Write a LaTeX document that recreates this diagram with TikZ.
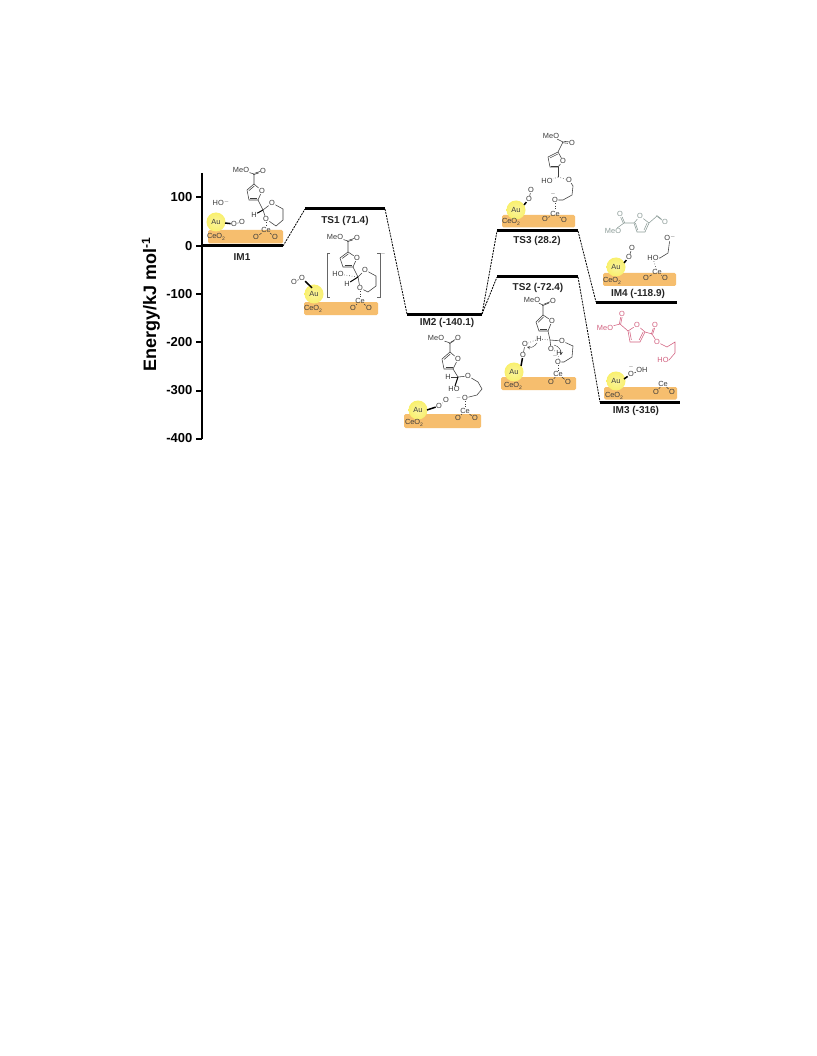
\documentclass[tikz,border=0pt]{standalone}
\usepackage{fontspec}
\setmainfont{Liberation Sans}
\usetikzlibrary{calc}
\definecolor{plateor}{HTML}{F6BE6E}
\definecolor{grayblue}{HTML}{8C9C98}
\definecolor{rosepink}{HTML}{D2607F}
\definecolor{bondgray}{HTML}{3C3C3C}
\definecolor{glowa}{HTML}{FAF49C}
\definecolor{glowb}{HTML}{F9F070}
\definecolor{glowc}{HTML}{F8EB10}
\definecolor{glowd}{HTML}{F8EB10}
\pgfdeclareradialshading{auglow}{\pgfpoint{0bp}{0bp}}{color(0bp)=(glowa); color(24bp)=(glowb); color(40bp)=(glowc); color(50bp)=(glowd)}
\newcommand{\subtwo}{\raisebox{-1.2pt}{\fontsize{5}{5}\selectfont 2}}
\newcommand{\supminus}{\raisebox{2.5pt}{\fontsize{5}{5}\selectfont $-$}}
\tikzset{
  level/.style={line width=3pt,black},
  conn/.style={dashed,dash pattern=on 2pt off 1pt,line width=0.8pt,black},
  axisl/.style={line width=2pt,black},
  ticklab/.style={font=\bfseries\fontsize{13}{15}\selectfont,anchor=east,inner sep=0},
  lvlab/.style={font=\bfseries\fontsize{10}{12}\selectfont,inner sep=0,text=black!85},
  atom/.style={font=\fontsize{7.4}{8}\selectfont,inner sep=0.3pt,text=bondgray},
  bond/.style={line width=0.55pt,draw=bondgray},
  wedge/.style={line width=1.5pt,black},
  hbond/.style={line width=0.6pt,dotted,draw=bondgray},
  plate/.style={fill=plateor,rounded corners=1.5pt,draw=none},
}
% prefix, C2, O, C5, C4, C3, colour
\newcommand{\furan}[7]{
  \node[atom,text=#7] (#1O) at (#3) {O};
  \coordinate (#12) at (#2); \coordinate (#15) at (#4);
  \coordinate (#14) at (#5); \coordinate (#13) at (#6);
  \coordinate (#1c) at ($(#3)!0.45!($(#5)!0.5!(#6)$)$);
  \draw[line width=0.55pt,draw=#7,line join=round] (#1O) -- (#15) -- (#14) -- (#13) -- (#12) -- (#1O);
  \draw[line width=0.55pt,draw=#7] ($(#15)!0.22!(#1c)$) -- ($(#14)!0.22!(#1c)$);
  \draw[line width=0.55pt,draw=#7] ($(#13)!0.22!(#1c)$) -- ($(#12)!0.22!(#1c)$);
}
% prefix, MeO pos, ester C, =O pos, colour : bonded to prefix-5
\newcommand{\ester}[5]{
  \node[atom,text=#5] (#1M) at (#2) {MeO};
  \coordinate (#1E) at (#3);
  \node[atom,text=#5] (#1Q) at (#4) {O};
  \draw[line width=0.55pt,draw=#5] (#15) -- (#1E) -- (#1M);
  \draw[line width=0.55pt,draw=#5,transform canvas={shift={(0.7pt,0.7pt)}}] (#1E) -- (#1Q);
  \draw[line width=0.55pt,draw=#5,transform canvas={shift={(-0.7pt,-0.7pt)}}] (#1E) -- (#1Q);
}
% prefix, Ce, O, O
\newcommand{\ceunit}[4]{
  \node[atom] (#1ce) at (#2) {Ce};
  \node[atom] (#1oa) at (#3) {O};
  \node[atom] (#1ob) at (#4) {O};
  \draw[bond] (#1ce) -- (#1oa);
  \draw[bond] (#1ce) -- (#1ob);
}
% prefix, centre
\newcommand{\gold}[2]{
  \shade[shading=auglow] (#2) circle (9.5);
  \node[atom] (#1au) at (#2) {Au};
}
\begin{document}
\begin{tikzpicture}[x=1pt,y=-1pt]
\useasboundingbox (0,0) rectangle (816,1056);
\fill[white] (0,0) rectangle (816,1056);

% axis
\coordinate (axT) at (201.5,173);
\coordinate (axB) at (201.5,439);
\draw[axisl] (axT) -- (axB);
\foreach \nm/\yy/\lab in {a/197.5/100,b/246/0,c/294/-100,d/342/-200,e/390.5/-300,f/438.5/-400}{
  \coordinate (t\nm) at (196,\yy);
  \coordinate (u\nm) at (201.5,\yy);
  \draw[axisl] (t\nm) -- (u\nm);
  \node[ticklab] (l\nm) at (192.5,\yy) {\lab};
}
\node[rotate=90,inner sep=0,font=\bfseries\fontsize{18}{20}\selectfont] (ylab) at (151,305) {Energy/kJ mol\raisebox{6pt}{\fontsize{12}{12}\selectfont -1}};

% levels
\foreach \nm/\xa/\xb/\yy in {imA/201/283/246,tsA/305/385/209,imB/407/482/314,tsC/497/578/231,tsB/497/578/277,imD/596/677/302,imC/600/680/402}{
  \coordinate (\nm l) at (\xa,\yy);
  \coordinate (\nm r) at (\xb,\yy);
}
\draw[conn] (imAr) -- (tsAl);
\draw[conn] (tsAr) -- (imBl);
\draw[conn] (imBr) -- (tsCl);
\draw[conn] (imBr) -- (tsBl);
\draw[conn] (tsCr) -- (imDl);
\draw[conn] (tsBr) -- (imCl);
\foreach \nm in {imA,tsA,imB,tsC,tsB,imD,imC}{ \draw[level] (\nm l) -- (\nm r); }

% level labels
\node[lvlab] (nIMa) at (242,257) {IM1};
\node[lvlab] (nTSa) at (345,221) {TS1 (71.4)};
\node[lvlab] (nIMb) at (447,323) {IM2 (-140.1)};
\node[lvlab] (nTSc) at (537,241) {TS3 (28.2)};
\node[lvlab] (nTSb) at (538,288) {TS2 (-72.4)};
\node[lvlab] (nIMd) at (638,294) {IM4 (-118.9)};
\node[lvlab] (nIMc) at (636,411) {IM3 (-316)};

% ---------- IM1
\fill[plate] (208,230) rectangle (283,243.5);
\gold{a}{216,222}
\node[atom] (aCe) at (216,237) {CeO\subtwo};
\node[atom] (aoa) at (234,224) {O};
\node[atom] (aob) at (242,222) {O};
\draw[wedge] (aau.east) ++(4,1) -- (aoa);
\draw[bond] (aoa) -- (aob);
\node[atom] (aho) at (221,203) {HO\supminus};
\furan{af}{258,200}{262,191}{254,184}{247,190}{249,200}{bondgray}
\ester{af}{241,170}{254,174}{263,171}{bondgray}
\coordinate (aC) at (263,210);
\node[atom] (aH) at (254,215) {H};
\node[atom] (aOa) at (272,203) {O};
\node[atom] (aOb) at (266,219) {O};
\coordinate (ar1) at (283,209);
\coordinate (ar2) at (283,220);
\coordinate (ar3) at (276,226);
\draw[bond] (af2) -- (aC) -- (aOa) -- (ar1) -- (ar2) -- (ar3) -- (aOb) -- (aC);
\draw[wedge,line width=1pt] (aC) -- (aH);
\ceunit{a}{266,230}{256,237}{275,237}
\draw[hbond] (aOb) -- (ace);

% ---------- TS1
\fill[plate] (304,302) rectangle (378,315);
\gold{b}{314,294}
\node[atom] (bCe) at (313,309) {CeO\subtwo};
\node[atom] (boa) at (302,278) {O};
\node[atom] (bob) at (294,282) {O};
\draw[wedge] (bau.north) ++(-2,-3) -- (boa);
\draw[bond] (boa) -- (bob);
\furan{bf}{353,267}{357,258}{348,252}{340,258}{343,267}{bondgray}
\ester{bf}{335,237}{348,241}{357,238}{bondgray}
\coordinate (bC) at (358,277);
\node[atom] (bHO) at (338,274) {HO};
\node[atom] (bH) at (347,284) {H};
\node[atom] (bOa) at (365,270) {O};
\node[atom] (bOb) at (360,288) {O};
\coordinate (br1) at (376,276);
\coordinate (br2) at (376,286);
\coordinate (br3) at (368,292);
\draw[bond] (bf2) -- (bC) -- (bOa) -- (br1) -- (br2) -- (br3) -- (bOb) -- (bC);
\draw[hbond] (bHO) -- (bC);
\draw[wedge,line width=1pt] (bC) -- (bH);
\ceunit{b}{360,301}{353,308}{369,308}
\draw[hbond] (bOb) -- (bce);
\coordinate (bkl) at (327,253);
\coordinate (bkr) at (380,253);
\draw[line width=0.5pt,draw=black!60] ($(bkl)+(3,0)$) -- (bkl) -- ++(0,44) -- ++(3,0);
\draw[line width=0.5pt,draw=black!60] ($(bkr)+(-3,0)$) -- (bkr) -- ++(0,44) -- ++(-3,0);
\node[atom] (bminus) at (383,255) {\supminus};

% ---------- IM2
\fill[plate] (404,414) rectangle (481,428);
\gold{c}{418,410}
\node[atom] (cCe) at (414,423) {CeO\subtwo};
\node[atom] (coa) at (439,406) {O};
\node[atom] (cob) at (446,400) {O};
\draw[wedge] (cau.east) ++(4,0) -- (coa);
\draw[bond] (coa) -- (cob);
\furan{cf}{453,369}{458,359}{450,352}{442,359}{444,369}{bondgray}
\ester{cf}{436,338}{450,343}{458,338}{bondgray}
\coordinate (cC) at (458,377);
\node[atom] (cH) at (448,377) {H};
\node[atom] (cHO) at (454,389) {HO};
\node[atom] (cOa) at (468,376) {O};
\node[atom] (cOb) at (465,398) {O};
\coordinate (cr1) at (478,382);
\coordinate (cr2) at (482,389);
\coordinate (cr3) at (477,395);
\draw[bond] (cf2) -- (cC) -- (cOa) -- (cr1) -- (cr2) -- (cr3) -- (cOb);
\draw[bond] (cH) -- (cC);
\draw[wedge,line width=1pt] (cC) -- (cHO);
\node[atom] (cdot) at (458.5,399) {\supminus};
\ceunit{c}{465,411}{458,418}{475,418}
\draw[hbond] (cOb) -- (cce);

% ---------- TS3
\fill[plate] (502,215) rectangle (575,227.5);
\gold{d}{516,210}
\node[atom] (dCe) at (511,222) {CeO\subtwo};
\node[atom] (doa) at (529,199) {O};
\node[atom] (dob) at (531,190) {O};
\draw[wedge] (dau.north east) ++(3,-2) -- (doa);
\draw[bond] (doa) -- (dob);
\furan{df}{558,167}{563,161}{558,152}{548,157}{550,167}{bondgray}
\ester{df}{551,136}{563,142}{572,143}{bondgray}
\coordinate (dC) at (558,177);
\node[atom] (dHO) at (547,181) {HO};
\node[atom] (dOa) at (569,180) {O};
\node[atom] (dOb) at (555,200) {O};
\coordinate (dr1) at (573,186);
\coordinate (dr2) at (572,195);
\coordinate (dr3) at (563,200);
\draw[bond] (df2) -- (dC);
\draw[hbond] (dC) -- (dOa);
\draw[hbond] (dC) -- (dHO);
\draw[bond] (dOa) -- (dr1) -- (dr2) -- (dr3) -- (dOb);
\node[atom] (dmin) at (553,195) {\supminus};
\ceunit{d}{555,214}{545,219}{564,220}
\draw[hbond] (dOb) -- (dce);

% ---------- TS2
\fill[plate] (501,377) rectangle (576,390);
\gold{e}{514,372}
\node[atom] (eCe) at (513,386) {CeO\subtwo};
\node[atom] (eoa) at (523,355) {O};
\node[atom] (eob) at (525,344) {O};
\draw[wedge] (eau.north east) ++(2,-3) -- (eoa);
\draw[bond] (eoa) -- (eob);
\furan{ef}{548,331}{552,321}{543,315}{536,322}{539,331}{bondgray}
\ester{ef}{532,300}{543,305}{553,301}{bondgray}
\coordinate (eC) at (550,340);
\node[atom] (eH) at (539,339) {H};
\node[atom] (eOa) at (562,341) {O};
\node[atom] (eOh) at (551,349) {O};
\node[atom] (eHb) at (559,353) {H};
\node[atom] (eOb) at (558,362) {O};
\coordinate (er1) at (573,346);
\coordinate (er2) at (572,357);
\coordinate (er3) at (564,362);
\draw[bond] (ef2) -- (eC) -- (eOa) -- (er1) -- (er2) -- (er3) -- (eOb);
\draw[hbond] (eH) -- (eC);
\draw[hbond] (eH) -- (eob);
\draw[bond] (eC) -- (eOh);
\draw[hbond] (eHb) -- (eOb);
\draw[hbond] (eOh) -- (eHb);
\draw[line width=0.4pt,draw=bondgray,->,>=stealth] (eH) ++(-2,4) to[bend left=35] ($(eob)+(2,3)$);
\draw[line width=0.4pt,draw=bondgray,->,>=stealth] (eOh) ++(3,-4) to[bend left=40] ($(eHb)+(2,2)$);
\node[atom] (emin) at (555,357) {\supminus};
\ceunit{e}{558,374}{551,382}{568,382}
\draw[hbond] (eOb) -- (ece);

% ---------- IM4
\fill[plate] (603,273) rectangle (676,286);
\gold{f}{616,267}
\node[atom] (fCe) at (612,281) {CeO\subtwo};
\node[atom] (foa) at (629,257) {O};
\node[atom] (fob) at (632,248) {O};
\draw[wedge] (fau.north east) ++(3,-1) -- (foa);
\draw[bond] (foa) -- (fob);
\node[atom] (fHO) at (653,258) {HO};
\node[atom] (fOm) at (670,238) {O\supminus};
\coordinate (fr1) at (668,253);
\coordinate (fr2) at (660,258);
\draw[bond] (fOm) -- (fr1) -- (fr2) -- (fHO);
\ceunit{f}{657,272}{646,278}{665,278}
\draw[hbond] (fHO) -- (fce);
% grey product
\furan{gf}{634,223}{640,216}{649,223}{645,232}{637,232}{grayblue}
\node[atom,text=grayblue] (gM) at (613,231) {MeO};
\coordinate (gE) at (624,223);
\node[atom,text=grayblue] (gQ) at (620,214) {O};
\draw[line width=0.55pt,draw=grayblue] (gf2) -- (gE) -- (gM);
\draw[line width=0.55pt,draw=grayblue,transform canvas={shift={(0.7pt,0.2pt)}}] (gE) -- (gQ);
\draw[line width=0.55pt,draw=grayblue,transform canvas={shift={(-0.7pt,-0.2pt)}}] (gE) -- (gQ);
\coordinate (gA) at (657,216);
\node[atom,text=grayblue] (gR) at (665,222) {O};
\draw[line width=0.55pt,draw=grayblue] (gf5) -- (gA);
\draw[line width=0.55pt,draw=grayblue,transform canvas={shift={(0.4pt,-0.6pt)}}] (gA) -- (gR);
\draw[line width=0.55pt,draw=grayblue,transform canvas={shift={(-0.4pt,0.6pt)}}] (gA) -- (gR);

% ---------- IM3
\fill[plate] (604,387) rectangle (677,399.5);
\gold{h}{616,381}
\node[atom] (hCe) at (614,396) {CeO\subtwo};
\node[atom] (hoa) at (631,374) {O};
\node[atom] (hoh) at (642,370) {OH};
\draw[wedge] (hau.east) ++(3,-2) -- (hoa);
\draw[bond] (hoa) -- (hoh);
\node[atom] (hmin) at (631,368) {\supminus};
\ceunit{h}{663,384}{656,392}{672,392}
% pink product
\furan{pf}{628,331}{637,325}{645,332}{640,342}{630,342}{rosepink}
\node[atom,text=rosepink] (pM) at (605,328) {MeO};
\coordinate (pE) at (620,324);
\node[atom,text=rosepink] (pQ) at (622,314) {O};
\draw[line width=0.55pt,draw=rosepink] (pf2) -- (pE) -- (pM);
\draw[line width=0.55pt,draw=rosepink,transform canvas={shift={(0.7pt,0.1pt)}}] (pE) -- (pQ);
\draw[line width=0.55pt,draw=rosepink,transform canvas={shift={(-0.7pt,-0.1pt)}}] (pE) -- (pQ);
\coordinate (pF) at (652,334);
\node[atom,text=rosepink] (pS) at (655,325) {O};
\node[atom,text=rosepink] (pT) at (657,342) {O};
\node[atom,text=rosepink] (pH) at (663,360) {HO};
\coordinate (pr1) at (667,347);
\coordinate (pr2) at (675,342);
\coordinate (pr3) at (675,353);
\coordinate (pr4) at (669,360);
\draw[line width=0.55pt,draw=rosepink] (pf5) -- (pF) -- (pT) -- (pr1) -- (pr2) -- (pr3) -- (pr4) -- (pH);
\draw[line width=0.55pt,draw=rosepink,transform canvas={shift={(0.7pt,0.2pt)}}] (pF) -- (pS);
\draw[line width=0.55pt,draw=rosepink,transform canvas={shift={(-0.7pt,-0.2pt)}}] (pF) -- (pS);
\end{tikzpicture}
\end{document}
